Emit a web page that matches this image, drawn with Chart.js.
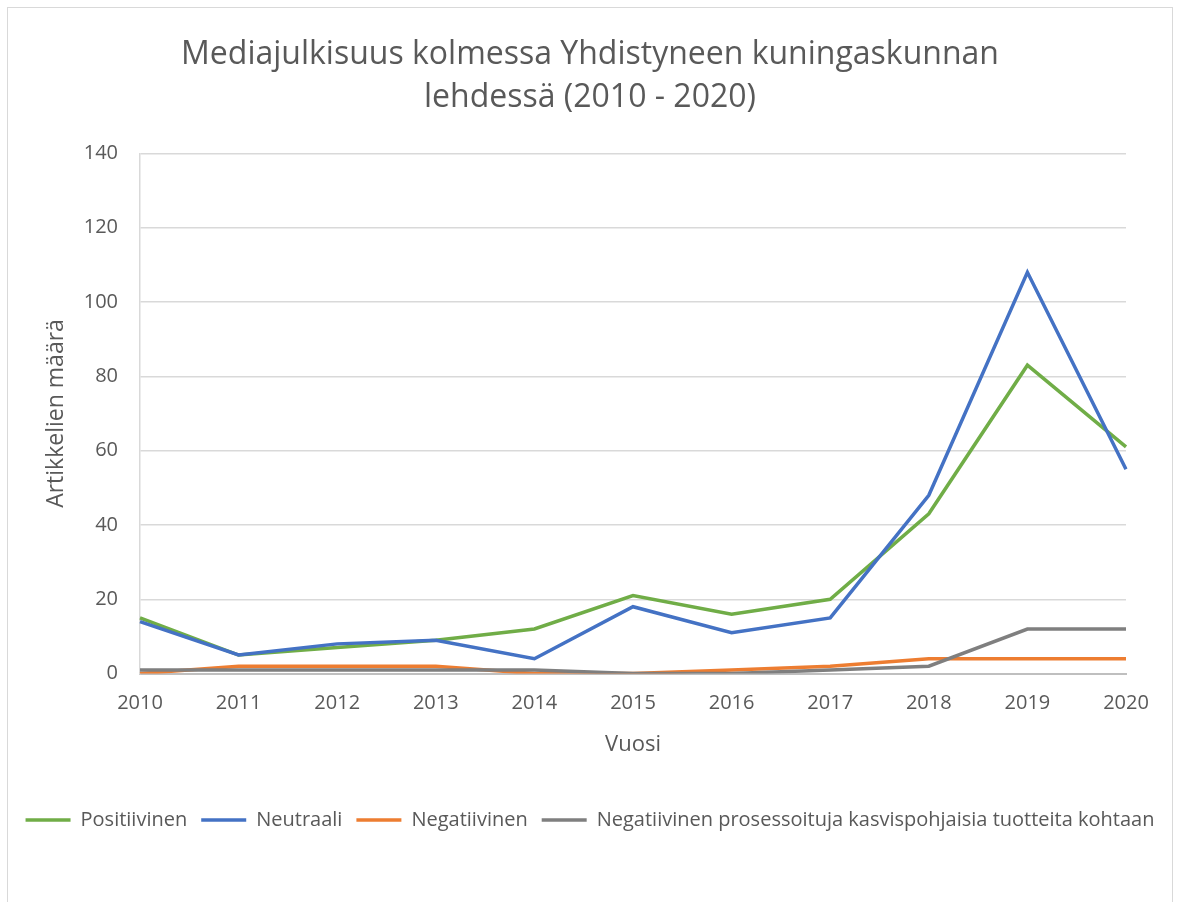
<!DOCTYPE html>
<html>
<head>
<meta charset="utf-8">
<script src="https://cdn.jsdelivr.net/npm/chart.js@4"></script>
<style>
  body { margin: 0; background: #fff; }
  #wrap { position: relative; width: 1180px; height: 902px; overflow: hidden; }
  #frame { position: absolute; left: 7px; top: 7px; width: 1164px; height: 940px; border: 1px solid #d9d9d9; }
  canvas { position: absolute; left: 0; top: 0; }
</style>
</head>
<body>
<div id="wrap">
  <div id="frame"></div>
  <canvas id="grafico" width="1180" height="902"></canvas>
</div>
<script>
const vuodet = ['2010', '2011', '2012', '2013', '2014', '2015', '2016', '2017', '2018', '2019', '2020']
const positiivinen = [15, 5, 7, 9, 12, 21, 16, 20, 43, 83, 61]
const neutraali = [14, 5, 8, 9, 4, 18, 11, 15, 48, 108, 55]
const negatiivinen = [0, 2, 2, 2, 0, 0, 1, 2, 4, 4, 4]
const negKasvis = [1, 1, 1, 1, 1, 0, 0, 1, 2, 12, 12]

const fontti = '"Open Sans", "Noto Sans", sans-serif'
const harmaa = '#595959'

const sarja = (label, values, color, order) => ({
    label: label,
    data: values,
    borderColor: color,
    backgroundColor: color,
    borderWidth: 3.5,
    pointRadius: 0,
    tension: 0,
    fill: false,
    order: order
})

const data = {
    labels: vuodet,
    datasets: [
        sarja('Positiivinen', positiivinen, '#70ad47', 4),
        sarja('Neutraali', neutraali, '#4472c4', 3),
        sarja('Negatiivinen', negatiivinen, '#ed7d31', 2),
        sarja('Negatiivinen prosessoituja kasvispohjaisia tuotteita kohtaan', negKasvis, '#7f7f7f', 1)
    ]
}

const config = {
    type: 'line',
    data: data,
    options: {
        responsive: false,
        animation: false,
        layout: { padding: { left: 0, right: 0, top: 0, bottom: 62 } },
        plugins: {
            title: {
                display: true,
                text: ['Mediajulkisuus kolmessa Yhdistyneen kuningaskunnan', 'lehdessä (2010 - 2020)'],
                color: harmaa,
                font: { family: fontti, size: 32, weight: 'normal', lineHeight: 1.35 },
                padding: { top: 33, bottom: 34 }
            },
            legend: {
                position: 'bottom',
                labels: {
                    color: harmaa,
                    font: { family: fontti, size: 20 },
                    usePointStyle: true,
                    pointStyle: 'line',
                    pointStyleWidth: 45,
                    boxHeight: 10,
                    padding: 14,
                    sort: (a, b) => a.datasetIndex - b.datasetIndex
                }
            },
            tooltip: { enabled: false }
        },
        scales: {
            x: {
                type: 'category',
                offset: false,
                grid: { display: false, drawTicks: false },
                border: { color: '#bfbfbf', width: 2 },
                ticks: { color: harmaa, font: { family: fontti, size: 20 }, padding: 18, maxRotation: 0 },
                title: {
                    display: true,
                    text: 'Vuosi',
                    color: harmaa,
                    font: { family: fontti, size: 22 },
                    padding: { top: -2, bottom: 38 }
                }
            },
            y: {
                min: 0,
                max: 140,
                afterFit: (scale) => { scale.width = 140 },
                grid: { color: '#d9d9d9', lineWidth: 1.5, drawTicks: false },
                border: { color: '#d9d9d9', width: 1.5 },
                ticks: { stepSize: 20, color: harmaa, font: { family: fontti, size: 20 }, padding: 22 },
                title: {
                    display: true,
                    text: 'Artikkelien määrä',
                    color: harmaa,
                    font: { family: fontti, size: 23 },
                    padding: { top: 43, bottom: 0 }
                }
            },
            oikea: {
                position: 'right',
                afterFit: (scale) => { scale.width = 54 },
                grid: { display: false, drawTicks: false },
                border: { display: false },
                ticks: { display: false }
            }
        }
    }
}

new Chart(document.getElementById('grafico'), config)
</script>
</body>
</html>
